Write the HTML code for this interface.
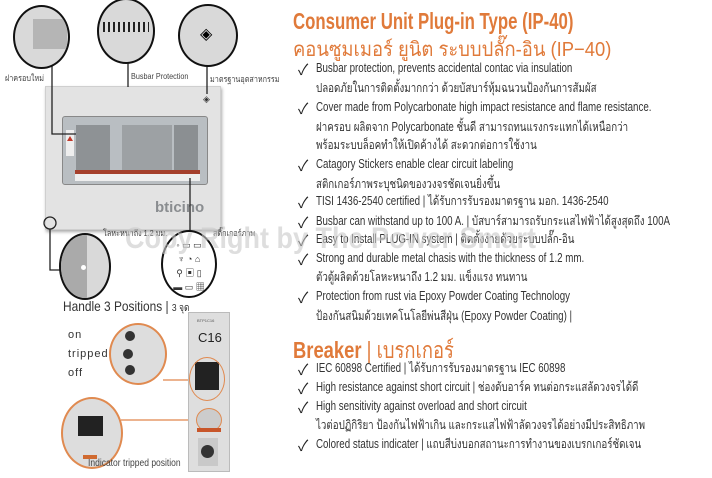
<!DOCTYPE html>
<html><head><meta charset="utf-8"><style>
body{margin:0;width:712px;height:478px;background:#fff;position:relative;overflow:hidden;font-family:"Liberation Sans","Noto Sans CJK SC",sans-serif;}
.a{position:absolute;white-space:nowrap;}
.t{font-size:12.5px;color:#333;left:316px;line-height:14px;transform:scaleX(0.78);transform-origin:0 0;}
.ck{position:absolute;left:298px;font-size:15px;color:#222;}
.h{color:#e07a3a;font-weight:bold;transform-origin:0 0;}
.c{position:absolute;border-radius:50%;border:2px solid #111;background:#d9d9d9;overflow:hidden;}
.o{border-color:#e08a50;}
.sm{font-size:8.5px;color:#444;transform:scaleX(0.85);transform-origin:0 0;}
</style></head><body>
<div class="a h" style="left:293px;top:8px;font-size:23px;transform:scaleX(0.73);">Consumer Unit Plug-in Type (IP-40)</div>
<div class="a" style="left:293px;top:33px;font-size:20px;color:#e07a3a;transform:scaleX(0.92);transform-origin:0 0;">คอนซูมเมอร์ ยูนิต ระบบปลั๊ก-อิน (IP−40)</div>

<div class="ck" style="top:59px">✓</div><div class="a t" style="top:61px">Busbar protection, prevents accidental contac via insulation</div>
<div class="a t" style="top:81px">ปลอดภัยในการติดตั้งมากกว่า ด้วยบัสบาร์หุ้มฉนวนป้องกันการสัมผัส</div>
<div class="ck" style="top:98px">✓</div><div class="a t" style="top:100px">Cover made from Polycarbonate high impact resistance and flame resistance.</div>
<div class="a t" style="top:120px">ฝาครอบ ผลิตจาก Polycarbonate ชั้นดี สามารถทนแรงกระแทกได้เหนือกว่า</div>
<div class="a t" style="top:138px">พร้อมระบบล็อคทำให้เปิดค้างได้ สะดวกต่อการใช้งาน</div>
<div class="ck" style="top:155px">✓</div><div class="a t" style="top:157px">Catagory Stickers enable clear circuit labeling</div>
<div class="a t" style="top:177px">สติกเกอร์ภาพระบุชนิดของวงจรชัดเจนยิ่งขึ้น</div>
<div class="ck" style="top:192px">✓</div><div class="a t" style="top:194px">TISI 1436-2540 certified | ได้รับการรับรองมาตรฐาน มอก. 1436-2540</div>
<div class="ck" style="top:212px">✓</div><div class="a t" style="top:214px">Busbar can withstand up to 100 A. | บัสบาร์สามารถรับกระแสไฟฟ้าได้สูงสุดถึง 100A</div>
<div class="ck" style="top:230px">✓</div><div class="a t" style="top:232px">Easy to Install PLUG-IN system | ติดตั้งง่ายด้วยระบบปลั๊ก-อิน</div>
<div class="ck" style="top:249px">✓</div><div class="a t" style="top:251px">Strong and durable metal chasis with the thickness of 1.2 mm.</div>
<div class="a t" style="top:270px">ตัวตู้ผลิตด้วยโลหะหนาถึง 1.2 มม. แข็งแรง ทนทาน</div>
<div class="ck" style="top:287px">✓</div><div class="a t" style="top:289px">Protection from rust via Epoxy Powder Coating Technology</div>
<div class="a t" style="top:309px">ป้องกันสนิมด้วยเทคโนโลยีพ่นสีฝุ่น (Epoxy Powder Coating) |</div>

<div class="a h" style="left:293px;top:333px;font-size:23px;transform:scaleX(0.8);">Breaker <span style="font-weight:normal">|</span> <span style="font-weight:normal">เบรกเกอร์</span></div>
<div class="ck" style="top:359px">✓</div><div class="a t" style="top:361px">IEC 60898 Certified | ได้รับการรับรองมาตรฐาน IEC 60898</div>
<div class="ck" style="top:378px">✓</div><div class="a t" style="top:380px">High resistance against short circuit | ช่องดับอาร์ค ทนต่อกระแสลัดวงจรได้ดี</div>
<div class="ck" style="top:397px">✓</div><div class="a t" style="top:399px">High sensitivity against overload and short circuit</div>
<div class="a t" style="top:418px">ไวต่อปฏิกิริยา ป้องกันไฟฟ้าเกิน และกระแสไฟฟ้าลัดวงจรได้อย่างมีประสิทธิภาพ</div>
<div class="ck" style="top:435px">✓</div><div class="a t" style="top:437px">Colored status indicater | แถบสีบ่งบอกสถานะการทำงานของเบรกเกอร์ชัดเจน</div>

<!-- consumer unit -->
<div class="a" style="left:45px;top:86px;width:174px;height:142px;background:#e3e3e3;border:1px solid #cfcfcf;box-shadow:1px 2px 3px #aaa;"></div>
<div class="a" style="left:62px;top:116px;width:144px;height:67px;background:#b9bec2;border:1px solid #888;border-radius:3px;"></div>
<div class="a" style="left:76px;top:125px;width:34px;height:45px;background:#8e9295;"></div>
<div class="a" style="left:122px;top:125px;width:50px;height:45px;background:#9da1a4;"></div>
<div class="a" style="left:174px;top:125px;width:24px;height:45px;background:#8b8f92;"></div>
<div class="a" style="left:75px;top:170px;width:125px;height:4px;background:#a5402c;"></div>
<div class="a" style="left:75px;top:174px;width:125px;height:7px;background:#eee;"></div>
<div class="a" style="left:66px;top:130px;width:8px;height:26px;background:#eee;"><div style="margin:6px 1px;width:0;height:0;border-left:3px solid transparent;border-right:3px solid transparent;border-bottom:5px solid #c0392b"></div></div>
<div class="a" style="left:155px;top:199px;font-size:15px;font-weight:bold;color:#8a8d90;">bticino</div>
<div class="a" style="left:203px;top:94px;font-size:9px;color:#333;">◈</div>
<svg class="a" style="left:0;top:0" width="290" height="300">
<g stroke="#222" stroke-width="1.3" fill="none">
<polyline points="52,66 52,134 76,134"/>
<line x1="128" y1="62" x2="128" y2="87"/>
<line x1="207" y1="65" x2="207" y2="94"/>
<polyline points="50,229 50,270 62,270"/>
<line x1="190" y1="178" x2="190" y2="232"/>
</g>
<circle cx="50" cy="223" r="6" fill="none" stroke="#222" stroke-width="1.3"/>
</svg>
<div class="c" style="left:13px;top:5px;width:53px;height:60px;"><div style="position:absolute;left:18px;top:12px;width:34px;height:30px;background:#b5b5b5"></div></div>
<div class="c" style="left:97px;top:-2px;width:54px;height:62px;"><div style="position:absolute;left:4px;top:22px;width:46px;height:10px;background:repeating-linear-gradient(90deg,#222 0 2px,#ddd 2px 5px)"></div></div>
<div class="c" style="left:178px;top:4px;width:56px;height:59px;"><div style="position:absolute;left:20px;top:18px;font-size:16px;">◈</div></div>
<div class="a sm" style="left:5px;top:71px;">ฝาครอบใหม่</div>
<div class="a sm" style="left:131px;top:71px;">Busbar Protection</div>
<div class="a sm" style="left:210px;top:72px;">มาตรฐานอุตสาหกรรม</div>
<div class="a sm" style="left:103px;top:226px;">โลหะหนาถึง 1.2 มม.</div>
<div class="a sm" style="left:213px;top:226px;">สติ๊กเกอร์ภาพ</div>
<div class="c" style="left:59px;top:233px;width:48px;height:63px;"><div style="position:absolute;left:0;top:0;width:26px;height:64px;background:#aaa"></div><div style="position:absolute;left:20px;top:30px;width:5px;height:5px;border-radius:50%;background:#fff"></div></div>
<div class="c" style="left:161px;top:230px;width:56px;height:68px;background:#fff;font-size:9px;line-height:14px;text-align:center;color:#333;padding-top:6px;box-sizing:border-box;">◦ ▭ ▭<br>♆ ◔ ⌂<br>⚲ ▣ ▯<br>▬ ▭ ▦</div>
<div class="a" style="left:125px;top:222px;font-size:30px;font-weight:bold;color:rgba(200,200,200,0.6);transform:scaleX(0.9);transform-origin:0 0;">Copy Right by The Power Smart</div>
<!-- handle -->
<div class="a" style="left:63px;top:298px;font-size:14px;color:#333;transform:scaleX(0.85);transform-origin:0 0;">Handle 3 Positions | <span style="font-size:10px">3 จุด</span></div>
<div class="a" style="left:68px;top:326px;font-size:11px;color:#333;line-height:19px;letter-spacing:1px;">on<br>tripped<br>off</div>
<div class="c o" style="left:109px;top:323px;width:54px;height:58px;background:#ddd;"><div style="position:absolute;left:14px;top:6px;width:10px;height:10px;border-radius:50%;background:#333;box-shadow:-2px 18px 0 #333,0 34px 0 #333"></div></div>
<svg class="a" style="left:0;top:0" width="290" height="478"><g stroke="#e59a6a" stroke-width="1.4"><line x1="163" y1="380" x2="190" y2="380"/><line x1="121" y1="420" x2="196" y2="420"/></g></svg>
<div class="c o" style="left:61px;top:397px;width:58px;height:68px;background:#ddd;"><div style="position:absolute;left:15px;top:17px;width:25px;height:20px;background:#222;"></div><div style="position:absolute;left:20px;top:56px;width:14px;height:4px;background:#d06a30;"></div></div>
<div class="a" style="left:88px;top:458px;font-size:10px;color:#444;transform:scaleX(0.85);transform-origin:0 0;">Indicator tripped position</div>
<!-- breaker -->
<div class="a" style="left:188px;top:312px;width:40px;height:158px;background:#dedede;border:1px solid #bbb;"></div>
<div class="a" style="left:198px;top:330px;font-size:13px;color:#222;">C16</div>
<div class="a" style="left:197px;top:318px;font-size:4px;color:#555;">BTP1C16</div>
<div class="a" style="left:195px;top:362px;width:24px;height:28px;background:#222;"></div>
<div class="a c o" style="left:189px;top:357px;width:34px;height:42px;background:transparent;border-width:1.5px;"></div>
<div class="a c o" style="left:196px;top:408px;width:24px;height:22px;background:#ccc;border-width:1.5px;"></div>
<div class="a" style="left:197px;top:428px;width:24px;height:4px;background:#c8562a;"></div>
<div class="a" style="left:198px;top:438px;width:20px;height:28px;background:#c9c9c9;"><div style="margin:7px 3px;width:13px;height:13px;border-radius:50%;background:#333"></div></div>
</body></html>
